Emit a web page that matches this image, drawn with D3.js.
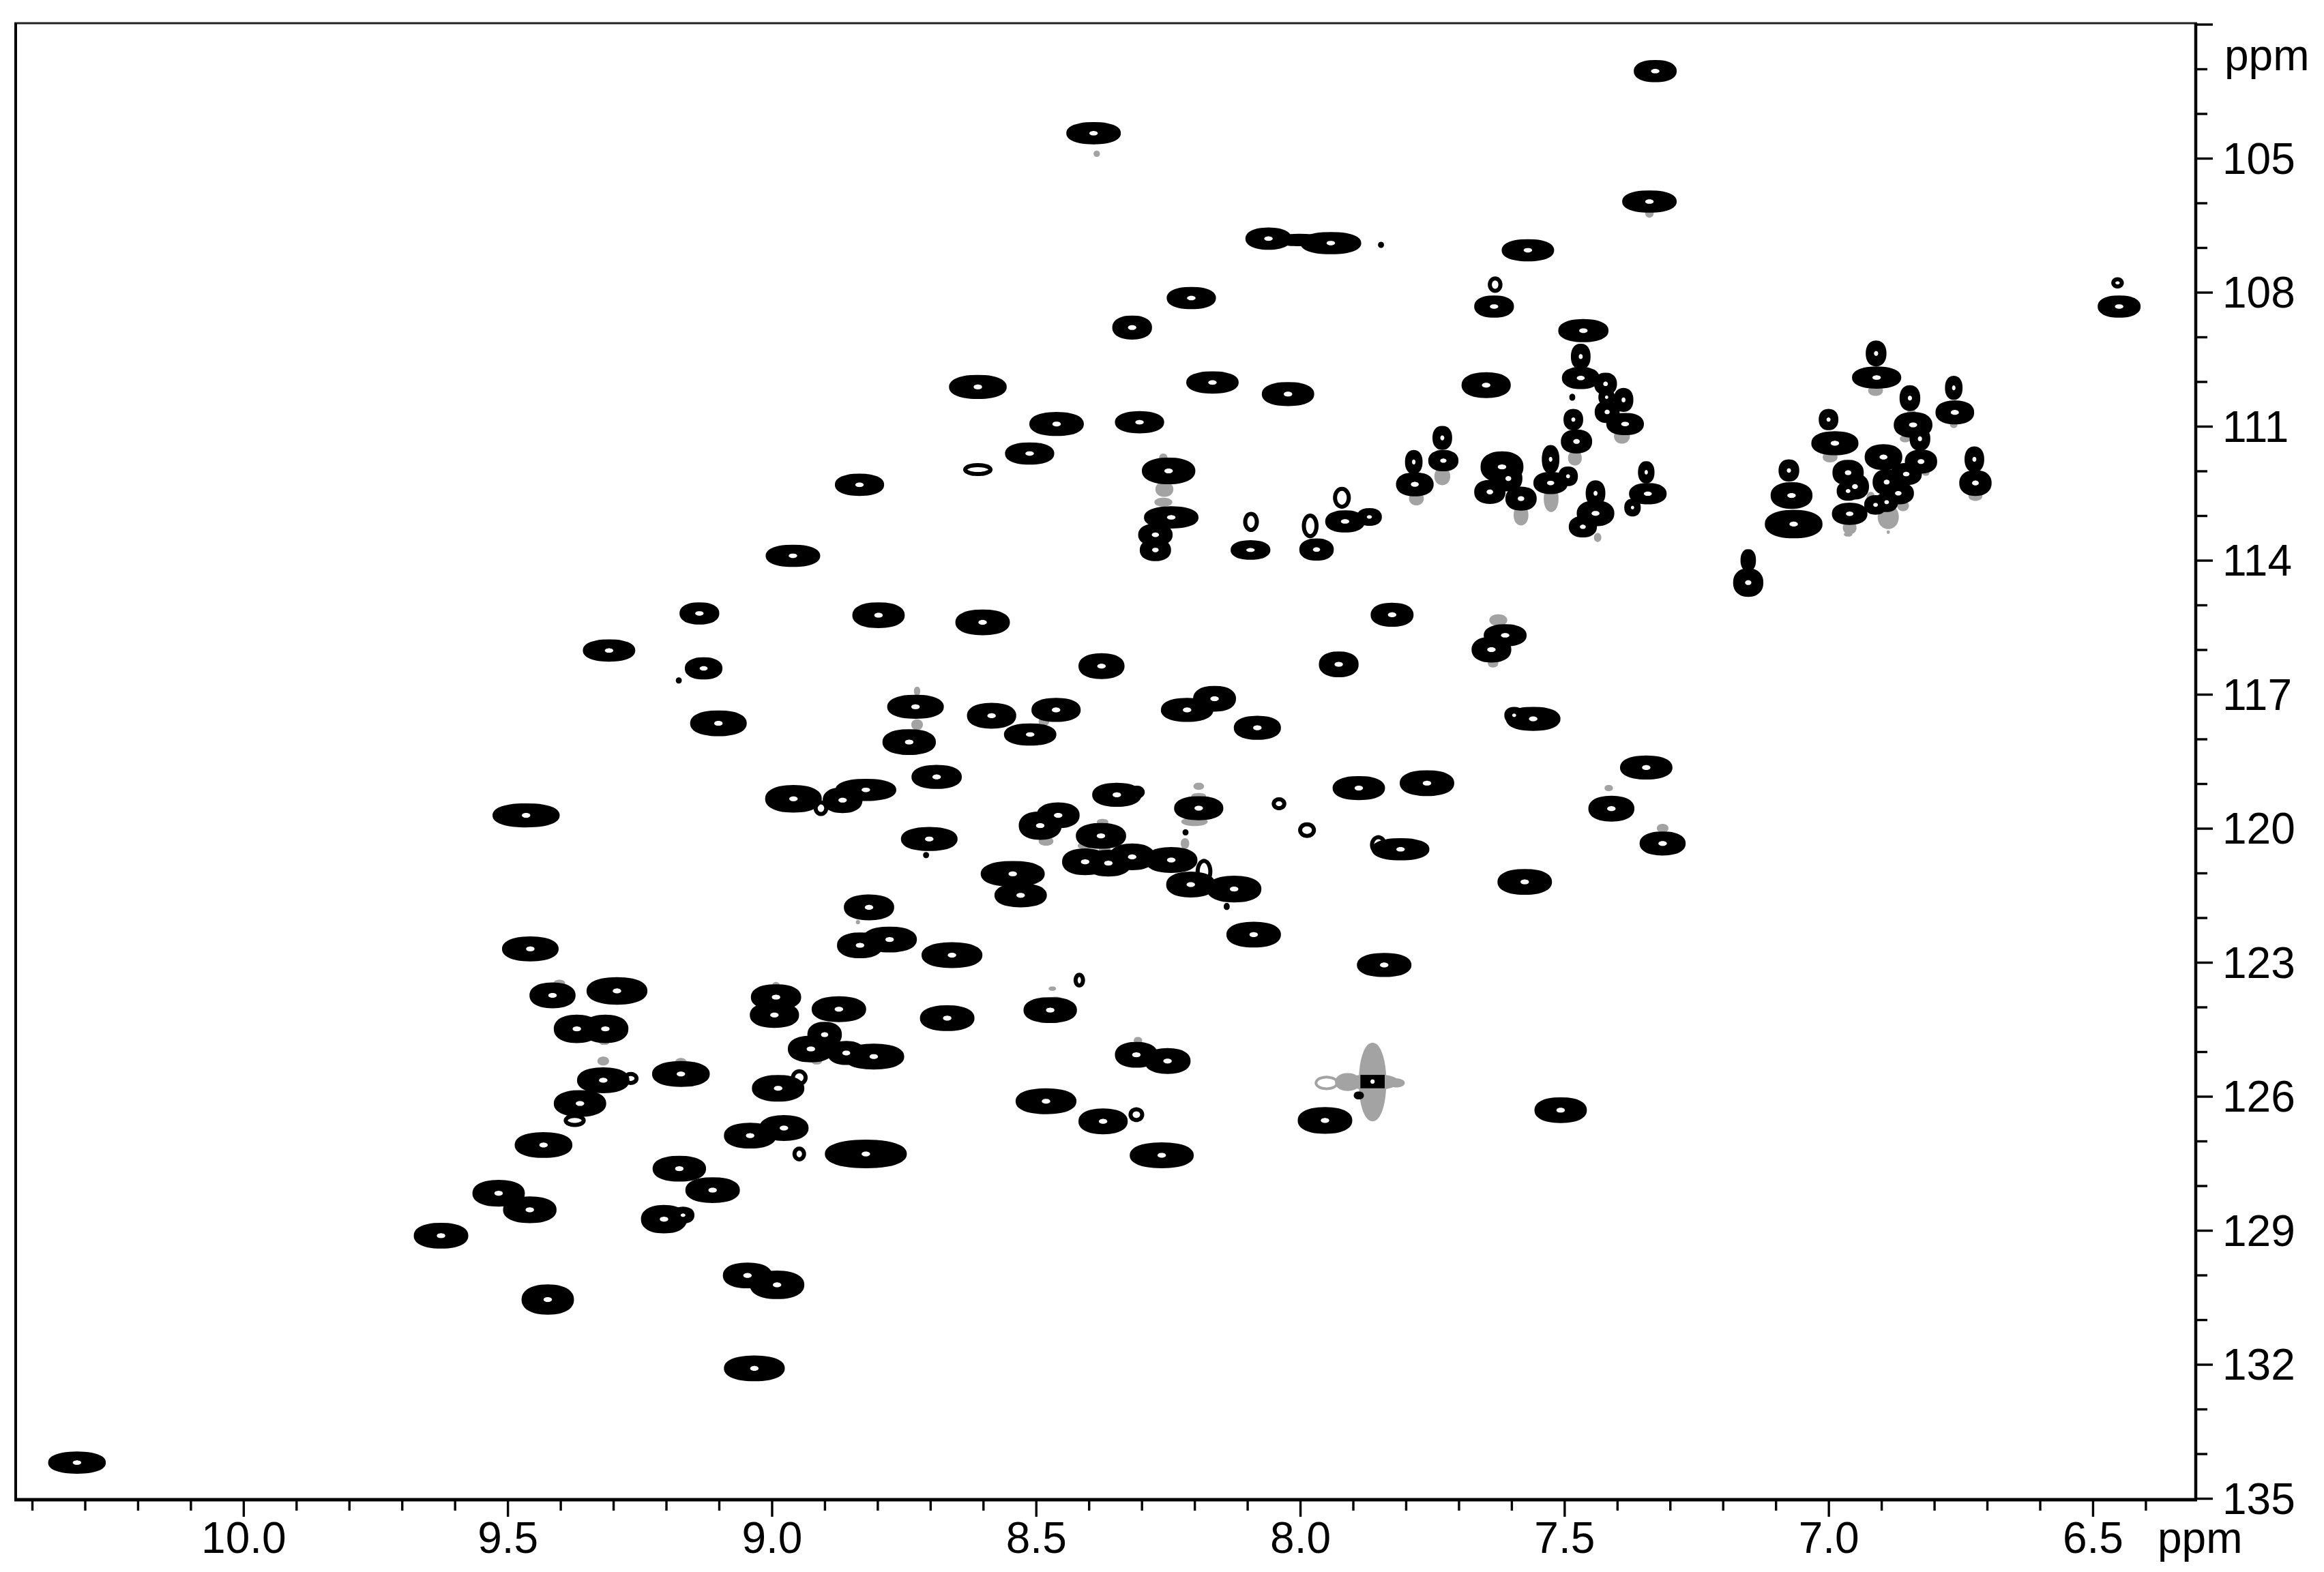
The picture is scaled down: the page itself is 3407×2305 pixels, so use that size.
<!DOCTYPE html>
<html><head><meta charset="utf-8">
<script src="https://cdn.jsdelivr.net/npm/d3@7/dist/d3.min.js"></script>
<style>html,body{margin:0;padding:0;background:#fff}svg{display:block}text{font-family:"Liberation Sans",Arial,sans-serif;fill:#000}</style>
</head><body><svg id="c" width="3407" height="2305"></svg>
<script>
// 1H ppm, 15N ppm, half-width in each dimension (ppm): strong contours of the black spectrum
const peakH=[10.315,9.626,9.424,9.517,9.458,9.432,9.363,9.319,9.172,9.457,9.415,9.293,9.369,9.315,9.465,9.308,9.137,9.129,9.101,8.96,8.834,8.798,8.601,8.728,8.74,8.688,8.584,8.462,8.511,8.214,8.162,8.081,8.959,8.866,8.822,8.347,8.192,8.492,8.458,8.377,8.702,8.407,8.363,8.318,8.244,8.207,8.125,8.544,8.529,8.816,8.833,8.777,8.659,8.088,8.992,8.995,8.873,8.668,8.473,8.9,8.926,8.859,8.807,8.31,8.251,8.988,8.481,8.373,9.041,8.977,8.822,8.262,9.175,9.112,9.204,9.168,9.046,8.99,9.033,8.249,8.244,8.274,8.274,8.094,7.969,7.915,7.869,7.783,7.785,7.729,7.731,7.618,7.641,7.606,7.582,7.526,7.526,7.493,7.477,7.441,7.441,7.465,7.345,7.342,7.371,7.464,7.469,7.469,7.422,7.42,7.388,7.419,7.385,7.483,6.91,6.909,6.846,6.84,6.827,6.825,6.763,6.761,6.724,6.722,7.0,6.988,7.075,7.07,7.066,6.96,6.896,6.963,6.95,6.963,6.89,6.853,6.868,6.89,6.911,7.152,7.152,7.826,7.927,7.612,7.638,8.376,7.559,7.595,7.889,7.76,7.411,7.345,7.314,7.575,7.507,7.953,7.841,7.81,7.328,7.339,8.391,8.06,7.942,8.001,7.569,7.633,8.206,8.318,8.61,8.166,8.023,7.648,8.461,8.304,8.512,6.45,7.847,8.708,8.217,8.139,9.176,7.485,7.889];
const peakN=[134.2,129.12,130.55,128.17,128.54,127.09,126.16,125.64,125.5,122.7,123.74,123.64,124.49,124.49,119.71,116.02,115.19,116.42,117.65,113.9,112.31,115.23,115.39,117.28,118.07,118.85,117.48,117.35,117.9,117.35,117.1,117.75,119.34,119.37,119.14,119.25,119.55,119.94,119.71,120.17,120.24,120.75,120.78,120.64,120.71,121.26,121.36,121.02,121.5,121.77,122.62,122.49,122.84,122.38,123.78,124.18,124.05,124.25,124.07,124.62,124.94,125.03,125.11,125.07,125.21,125.82,126.11,126.56,126.88,126.71,127.29,127.32,127.62,128.1,128.75,128.66,130.01,130.22,132.09,112.0,113.04,113.43,113.77,113.77,113.76,113.13,113.03,112.3,111.8,111.77,111.26,111.91,112.47,112.17,112.62,111.74,112.27,112.12,111.34,112.5,112.95,113.25,112.03,112.51,112.82,108.86,109.44,109.92,110.05,110.35,110.41,110.68,110.95,110.85,109.37,109.91,110.37,110.97,111.28,111.79,110.14,110.69,111.74,112.27,110.85,111.38,111.99,112.55,113.19,112.96,111.69,112.04,112.35,112.45,112.25,112.07,112.5,112.7,112.76,114.0,114.5,115.22,116.33,115.68,116.0,116.37,117.55,117.47,119.1,118.99,119.56,118.64,120.34,121.2,126.31,126.54,123.06,120.47,103.05,105.97,104.44,106.8,106.9,106.83,107.06,108.32,108.13,108.79,110.12,110.02,110.28,110.08,110.95,110.91,111.61,108.32,106.94,120.6,120.09,121.75,116.69,110.35,125.98];
const peakWH=[.053,.05,.048,.048,.049,.053,.048,.048,.053,.052,.042,.056,.042,.042,.062,.048,.036,.034,.052,.05,.045,.048,.05,.052,.049,.046,.045,.045,.048,.048,.039,.043,.052,.036,.056,.045,.045,.039,.039,.046,.052,.042,.042,.042,.048,.045,.05,.059,.048,.046,.042,.05,.056,.05,.046,.045,.05,.05,.049,.031,.042,.034,.056,.039,.042,.048,.056,.045,.048,.045,.076,.059,.049,.05,.042,.02,.045,.05,.056,.049,.05,.031,.028,.036,.031,.036,.022,.034,.015,.027,.017,.039,.028,.025,.028,.015,.031,.017,.028,.017,.034,.025,.014,.034,.014,.046,.017,.034,.02,.014,.017,.022,.034,.017,.018,.045,.018,.035,.018,.029,.015,.035,.017,.029,.017,.043,.018,.038,.053,.032,.034,.028,.025,.02,.025,.028,.028,.02,.02,.013,.027,.039,.036,.039,.036,.042,.05,.017,.048,.05,.042,.048,.042,.05,.048,.05,.05,.053,.039,.05,.05,.042,.056,.042,.048,.036,.045,.036,.053,.048,.048,.045,.05,.045,.045,.039,.004,.004,.004,.004,.004,.004,.008];
const peakWN=[.23,.27,.32,.28,.28,.27,.28,.27,.27,.26,.27,.29,.3,.3,.25,.23,.23,.23,.27,.23,.23,.27,.27,.25,.27,.25,.27,.25,.23,.25,.27,.25,.29,.27,.23,.25,.25,.3,.27,.27,.25,.28,.28,.28,.27,.27,.28,.27,.25,.27,.27,.27,.27,.27,.27,.27,.27,.27,.27,.27,.28,.25,.27,.27,.27,.28,.27,.27,.27,.27,.3,.27,.27,.27,.3,.17,.27,.3,.27,.28,.23,.23,.23,.2,.23,.23,.18,.25,.25,.22,.25,.33,.25,.27,.25,.3,.23,.2,.25,.27,.27,.22,.23,.22,.18,.24,.27,.23,.23,.17,.25,.23,.23,.22,.27,.23,.27,.27,.25,.25,.25,.25,.27,.27,.22,.25,.23,.28,.3,.23,.27,.27,.27,.2,.27,.23,.23,.2,.2,.23,.3,.25,.27,.23,.27,.27,.25,.17,.25,.27,.27,.25,.25,.27,.27,.28,.25,.23,.23,.23,.23,.23,.23,.12,.23,.23,.23,.25,.25,.23,.25,.27,.25,.23,.23,.23,.05,.05,.05,.06,.05,.06,.07];

// thin, hollow single-contour peaks of the black spectrum
const ringH=[8.61,6.453,8.093,7.981,7.921,8.04,7.987,8.418,8.948,9.373,7.631,8.182,8.309,9.267,8.948,8.31,8.907,7.852];
const ringN=[111.97,107.79,113.14,113.23,112.6,119.45,120.04,123.4,127.29,126.54,107.83,120.97,119.19,125.6,125.58,126.41,119.55,120.37];
const ringWH=[.024,.008,.011,.012,.013,.01,.013,.007,.009,.017,.01,.012,.011,.011,.012,.011,.01,.012];
const ringWN=[.1,.08,.18,.23,.2,.1,.13,.12,.12,.1,.14,.24,.1,.1,.14,.12,.13,.17];

// grey spectrum, showing only where it extends beyond the black contours
const grayH=[7.339,8.385,8.992,9.402,9.317,9.319,9.172,8.915,8.725,8.725,8.485,8.192,8.192,8.2,8.218,8.374,8.37,8.407,8.481,8.837,8.307,8.469,8.462,8.257,8.259,8.259,7.78,7.731,7.582,7.525,7.48,7.437,7.391,6.911,6.843,6.855,6.816,6.763,6.722,6.997,6.96,6.963,6.887,6.859,6.92,6.887,7.625,7.635,7.416,7.314,7.863,7.863,7.91,7.818];
const grayN=[106.23,104.9,123.51,123.47,124.78,125.21,125.24,125.21,116.93,117.68,117.61,119.06,119.28,119.85,120.34,119.86,120.47,120.39,120.29,122.1,124.75,123.59,123.82,112.41,111.71,112.7,112.62,112.12,112.99,112.62,111.71,113.49,111.22,110.2,110.69,111.28,112.04,110.97,112.57,111.69,113.27,113.42,113.03,112.78,112.6,113.37,115.34,116.3,119.1,120.0,125.68,125.68,125.68,125.7];
const grayWH=[.008,.006,.007,.011,.01,.011,.011,.01,.006,.011,.01,.01,.014,.025,.008,.011,.011,.014,.014,.004,.008,.007,.011,.017,.008,.017,.014,.015,.014,.014,.013,.007,.015,.014,.008,.01,.007,.007,.013,.014,.013,.008,.02,.011,.008,.003,.017,.01,.008,.011,.026,.05,.024,.016];
const grayWN=[.1,.07,.07,.08,.07,.1,.1,.08,.1,.12,.1,.08,.07,.1,.12,.07,.07,.08,.1,.05,.08,.05,.05,.17,.1,.1,.15,.2,.23,.3,.17,.1,.17,.12,.07,.08,.07,.07,.1,.12,.15,.05,.27,.12,.13,.04,.13,.1,.07,.1,.88,.18,.2,.1];
const grayRingH=[7.95];
const grayRingN=[125.7];
const grayRingWH=[.02];
const grayRingWN=[.13];
// saturated solvent-line cell in the cross-shaped artefact
const solventH=[7.863];
const solventN=[125.67];
const solventWH=[.023];
const solventWN=[.15];

const xMajor=[10.0,9.5,9.0,8.5,8.0,7.5,7.0,6.5];
const xMinor=[10.4,10.3,10.2,10.1,9.9,9.8,9.7,9.6,9.4,9.3,9.2,9.1,8.9,8.8,8.7,8.6,8.4,8.3,8.2,8.1,7.9,7.8,7.7,7.6,7.4,7.3,7.2,7.1,6.9,6.8,6.7,6.6,6.4];
const yMajor=[102,105,108,111,114,117,120,123,126,129,132,135];
const yMinor=[103,104,106,107,109,110,112,113,115,116,118,119,121,122,124,125,127,128,130,131,133,134];
const axisUnit="ppm";

const L=23,R=3219,T=34,B=2199;
const x=d3.scaleLinear().domain([10.431,6.305]).range([L,R]);
const y=d3.scaleLinear().domain([101.977,135.03]).range([T,B]);
const svg=d3.select("#c");
const contour=[];
for(let i=0;i<24;i++)contour.push(i/24*2*Math.PI);
const line=d3.line().curve(d3.curveCatmullRomClosed);
function shape(h,n,wh,wn,p){
  return line(contour.map(t=>{
    const c=Math.cos(t),s=Math.sin(t);
    const r=Math.pow(Math.pow(Math.abs(c),p)+Math.pow(Math.abs(s),p),-1/p);
    return [x(h+wh*r*c),y(n+wn*r*s)];
  }));
}
const gGray=svg.append("g").attr("fill","#a3a3a3");
gGray.selectAll("path").data(d3.range(grayH.length)).join("path")
  .attr("d",i=>shape(grayH[i],grayN[i],grayWH[i],grayWN[i],2.1));
svg.append("g").attr("fill","none").attr("stroke","#a3a3a3").attr("stroke-width",4)
  .selectAll("path").data(d3.range(grayRingH.length)).join("path")
  .attr("d",i=>shape(grayRingH[i],grayRingN[i],grayRingWH[i],grayRingWN[i],2));
const gBlack=svg.append("g").attr("fill","#000").attr("stroke","#000").attr("stroke-width",2.5);
gBlack.selectAll("path").data(d3.range(peakH.length)).join("path")
  .attr("d",i=>shape(peakH[i],peakN[i],peakWH[i],peakWN[i],2.25));
svg.append("g").attr("fill","none").attr("stroke","#000").attr("stroke-width",6)
  .selectAll("path").data(d3.range(ringH.length)).join("path")
  .attr("d",i=>shape(ringH[i],ringN[i],ringWH[i],ringWN[i],2));
svg.append("g").attr("fill","#000").selectAll("rect").data(solventH).join("rect")
  .attr("x",(d,i)=>x(d+solventWH[i])).attr("y",(d,i)=>y(solventN[i]-solventWN[i]))
  .attr("width",(d,i)=>x(d-solventWH[i])-x(d+solventWH[i]))
  .attr("height",(d,i)=>y(solventN[i]+solventWN[i])-y(solventN[i]-solventWN[i]));
// innermost contour: small open centre of every well-resolved peak
const cores=d3.range(peakH.length).filter(i=>peakWH[i]>=.014&&peakWN[i]>=.17);
svg.append("g").attr("fill","#fff").selectAll("path").data(cores).join("path")
  .attr("d",i=>shape(peakH[i],peakN[i],Math.min(.008,peakWH[i]*.22),Math.min(.055,peakWN[i]*.22),2));
svg.append("g").attr("fill","#fff").selectAll("path").data(solventH).join("path")
  .attr("d",(d,i)=>shape(d,solventN[i],.004,.05,2));

// frame
const frame=svg.append("g").attr("stroke","#000").attr("fill","none");
frame.append("line").attr("x1",L-2).attr("x2",R+2).attr("y1",T).attr("y2",T).attr("stroke-width",3).attr("stroke","#222");
frame.append("line").attr("x1",L-2).attr("x2",R+2).attr("y1",B).attr("y2",B).attr("stroke-width",5);
frame.append("line").attr("x1",L).attr("x2",L).attr("y1",T).attr("y2",B).attr("stroke-width",4);
frame.append("line").attr("x1",R).attr("x2",R).attr("y1",T).attr("y2",B).attr("stroke-width",4.5);

function styleAxis(g){g.select(".domain").remove();g.selectAll(".tick line").attr("stroke","#000").attr("stroke-width",3.4);g.selectAll("text").attr("font-size",64).attr("font-family",'"Liberation Sans",Arial,sans-serif').attr("fill","#000");}
svg.append("g").attr("transform",`translate(0,${B})`)
  .call(d3.axisBottom(x).tickValues(xMinor).tickSize(16).tickFormat(""))
  .call(styleAxis);
svg.append("g").attr("transform",`translate(0,${B})`)
  .call(d3.axisBottom(x).tickValues(xMajor).tickSize(25).tickPadding(8).tickFormat(d3.format(".1f")))
  .call(styleAxis);
svg.append("g").attr("transform",`translate(${R},0)`)
  .call(d3.axisRight(y).tickValues(yMinor).tickSize(17).tickFormat(""))
  .call(styleAxis);
svg.append("g").attr("transform",`translate(${R},0)`)
  .call(d3.axisRight(y).tickValues(yMajor).tickSize(25).tickPadding(14).tickFormat(d=>d===102?"":d))
  .call(styleAxis)
  .selectAll("text").attr("dy","0.35em");
svg.append("text").attr("x",3261).attr("y",103).attr("font-size",64).text(axisUnit);
svg.append("text").attr("x",3163).attr("y",2277).attr("font-size",64).text(axisUnit);
</script></body></html>
